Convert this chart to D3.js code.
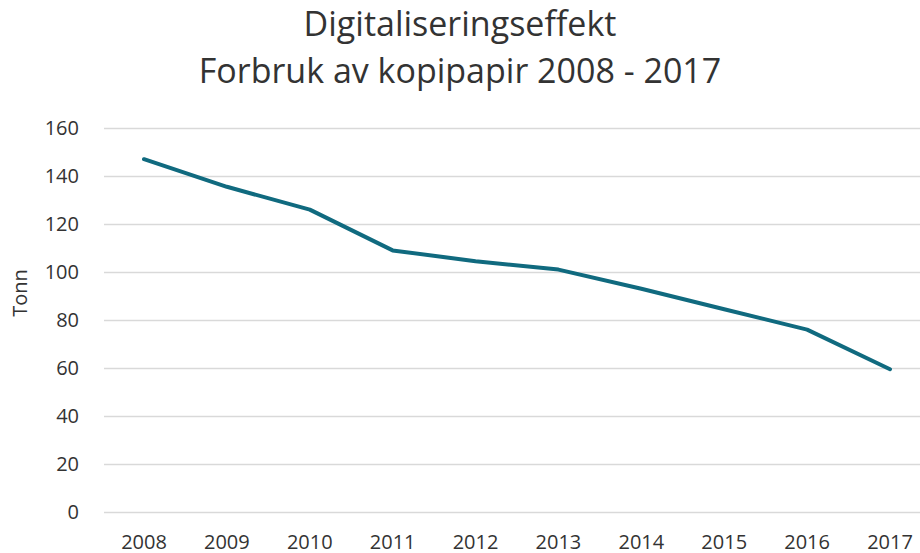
<!DOCTYPE html>
<html>
<head>
<meta charset="utf-8">
<script src="https://cdn.jsdelivr.net/npm/d3@7"></script>
<style>
  body { margin: 0; background: #fff; }
  text { font-family: "Open Sans", sans-serif; fill: #333; }
</style>
</head>
<body>
<div id="chart"></div>
<script>
var years = ["2008", "2009", "2010", "2011", "2012", "2013", "2014", "2015", "2016", "2017"];
var tonn = [147, 135.5, 126, 109, 104.5, 101, 93, 84.5, 76, 59.5];
var yTicks = [0, 20, 40, 60, 80, 100, 120, 140, 160];
var titleLines = ["Digitaliseringseffekt", "Forbruk av kopipapir 2008 - 2017"];

var width = 920, height = 553;

var svg = d3.select("#chart").append("svg")
    .attr("width", width)
    .attr("height", height);

var x = d3.scalePoint()
    .domain(years)
    .range([144, 890]);

var y = d3.scaleLinear()
    .domain([0, 160])
    .range([512, 128]);

// gridlines
svg.append("g")
    .selectAll("line")
    .data(yTicks)
    .enter().append("line")
    .attr("x1", 104)
    .attr("x2", width)
    .attr("y1", function (d) { return Math.round(y(d)) + 0.5; })
    .attr("y2", function (d) { return Math.round(y(d)) + 0.5; })
    .style("stroke", "#d9d9d9")
    .style("stroke-width", 1.5);

// y labels
svg.append("g")
    .selectAll("text")
    .data(yTicks)
    .enter().append("text")
    .attr("x", 79)
    .attr("y", function (d) { return y(d); })
    .attr("dy", "0.35em")
    .style("text-anchor", "end")
    .style("font-size", "20px")
    .text(function (d) { return d; });

// x labels
svg.append("g")
    .selectAll("text")
    .data(years)
    .enter().append("text")
    .attr("x", function (d) { return x(d); })
    .attr("y", 549)
    .style("text-anchor", "middle")
    .style("font-size", "20px")
    .text(function (d) { return d; });

// axis title
svg.append("text")
    .attr("transform", "translate(27,293) rotate(-90)")
    .style("text-anchor", "middle")
    .style("font-size", "20px")
    .text("Tonn");

// chart title
svg.append("g")
    .selectAll("text")
    .data(titleLines)
    .enter().append("text")
    .attr("x", 460)
    .attr("y", function (d, i) { return 36 + i * 47; })
    .style("text-anchor", "middle")
    .style("font-size", "34px")
    .text(function (d) { return d; });

var line = d3.line()
    .x(function (d, i) { return x(years[i]); })
    .y(function (d) { return y(d); });

svg.append("path")
    .datum(tonn)
    .attr("d", line)
    .style("fill", "none")
    .style("stroke", "#106a7f")
    .style("stroke-width", 4)
    .style("stroke-linecap", "round")
    .style("stroke-linejoin", "round");
</script>
</body>
</html>
